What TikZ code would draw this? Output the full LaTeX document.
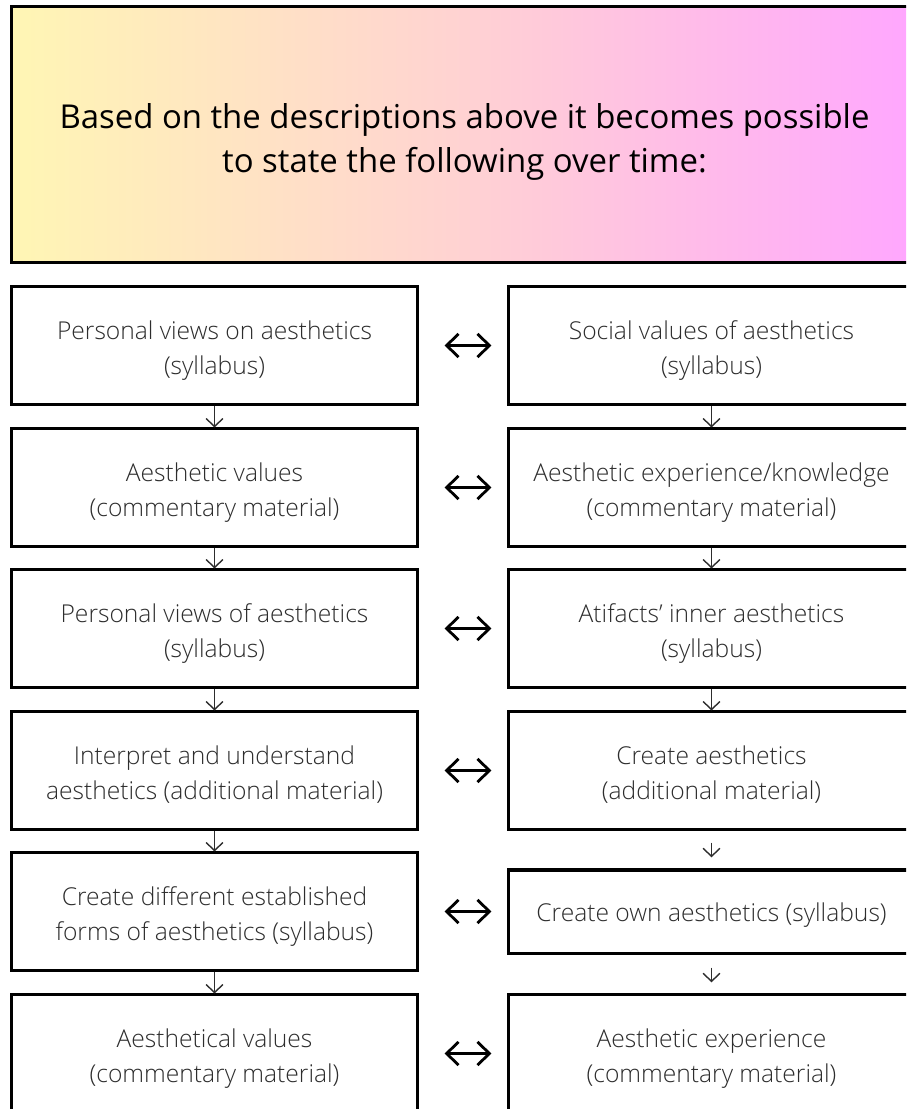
\documentclass[tikz,border=0pt]{standalone}
\usepackage{fontspec}
\setmainfont{Open Sans}
\newfontfamily\thinfont{Open Sans Light}
\usetikzlibrary{arrows.meta,positioning}

\definecolor{headyellow}{RGB}{255,246,180}
\definecolor{headpeach}{RGB}{255,210,210}
\definecolor{headpink}{RGB}{255,166,255}
\definecolor{boxtext}{RGB}{45,45,45}

% text block pushed a little down inside its box
\newcommand{\lowlines}[2]{\raisebox{-#1}[\height][\depth]{\begin{tabular}{@{}c@{}}#2\end{tabular}}}

\tikzset{
  HeadStyle/.style = {draw=black, line width=0.075cm, inner sep=0pt,
    minimum width=22.625cm, minimum height=6.375cm,
    left color=headyellow, right color=headpink, middle color=headpeach,
    font=\fontsize{23.4pt}{31.5pt}\selectfont},
  BoxStyle/.style = {draw=black, line width=0.075cm, fill=white, inner sep=0pt,
    minimum width=10.125cm, minimum height=2.925cm,
    text=boxtext, font=\thinfont\fontsize{17.5pt}{24.6pt}\selectfont},
  FlowStyle/.style = {draw=boxtext, line width=0.035cm,
    -{Straight Barb[length=0.2cm, width=0.42cm]}},
  PairStyle/.style = {draw=black, line width=0.07cm,
    {Straight Barb[length=0.3cm, width=0.58cm]}-{Straight Barb[length=0.3cm, width=0.58cm]},
    shorten <=0.65cm, shorten >=0.4cm}
}

\begin{document}
\begin{tikzpicture}[x=0.025cm,y=-0.025cm]
    \useasboundingbox (0,0) rectangle (906,1109);
    \clip (0,0) rectangle (906,1109);
    %\draw[help lines] (0,0) grid (906,1109);
    \node[HeadStyle] (T) at (464.5,134.5)
        {\lowlines{0.17cm}{Based on the descriptions above it becomes possible\\to state the following over time:}};
    % left column
    \node[BoxStyle] (L1) at (214.5,345.5) {\lowlines{0.12cm}{Personal views on aesthetics\\(syllabus)}};
    \node[BoxStyle] (L2) at (214.5,487.5) {\lowlines{0.12cm}{Aesthetic values\\(commentary material)}};
    \node[BoxStyle] (L3) at (214.5,628.5) {\lowlines{0.12cm}{Personal views of aesthetics\\(syllabus)}};
    \node[BoxStyle] (L4) at (214.5,770.5) {\lowlines{0.12cm}{Interpret and understand\\aesthetics (additional material)}};
    \node[BoxStyle] (L5) at (214.5,911.5) {\lowlines{0.12cm}{Create different established\\forms of aesthetics (syllabus)}};
    \node[BoxStyle] (L6) at (214.5,1053.5) {\lowlines{0.12cm}{Aesthetical values\\(commentary material)}};
    % right column
    \node[BoxStyle] (R1) at (711.5,345.5) {\lowlines{0.12cm}{Social values of aesthetics\\(syllabus)}};
    \node[BoxStyle] (R2) at (711.5,487.5) {\lowlines{0.12cm}{Aesthetic experience/knowledge\\(commentary material)}};
    \node[BoxStyle] (R3) at (711.5,628.5) {\lowlines{0.12cm}{Atifacts’ inner aesthetics\\(syllabus)}};
    \node[BoxStyle] (R4) at (711.5,770.5) {\lowlines{0.12cm}{Create aesthetics\\(additional material)}};
    {
        \tikzset{BoxStyle/.append style = {minimum height=2.075cm}}
        \node[BoxStyle] (R5) at (711.5,911.5) {\lowlines{0.08cm}{Create own aesthetics (syllabus)}};
    }
    \node[BoxStyle] (R6) at (711.5,1053.5) {\lowlines{0.12cm}{Aesthetic experience\\(commentary material)}};
    % down the columns
    \foreach \a/\b in {1/2,2/3,3/4,4/5,5/6}{
        \draw[FlowStyle] (L\a) -- (L\b);
    }
    \foreach \a/\b in {1/2,2/3,3/4}{
        \draw[FlowStyle] (R\a) -- (R\b);
    }
    \draw[FlowStyle, shorten <=0.3cm, shorten >=0.28cm] (R4) -- (R5);
    \draw[FlowStyle, shorten <=0.33cm, shorten >=0.28cm] (R5) -- (R6);
    % across
    \foreach \i in {1,...,6}{
        \draw[PairStyle] (L\i) -- (R\i);
    }
\end{tikzpicture}
\end{document}
